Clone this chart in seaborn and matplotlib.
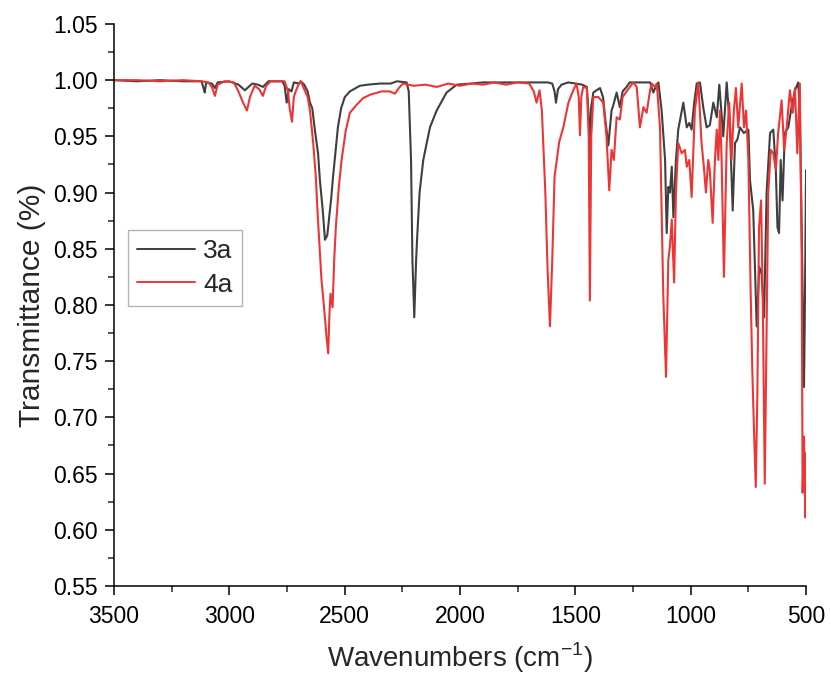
import numpy as np
import pandas as pd
import seaborn as sns
import matplotlib
matplotlib.use("Agg")
import matplotlib.pyplot as plt
from matplotlib.ticker import MultipleLocator, FormatStrFormatter

# ---- data (wavenumber cm-1, transmittance) ----
wn_3a = [3500, 3400, 3300, 3200, 3120, 3110, 3106, 3100, 3075, 3062, 3050, 3000,
         2960, 2932, 2900, 2875, 2854, 2830, 2770, 2760, 2751, 2742, 2730, 2720,
         2700, 2690, 2675, 2660, 2650, 2640, 2629, 2615, 2607, 2595, 2585, 2575,
         2567, 2558, 2550, 2540, 2529, 2515, 2499, 2477, 2434, 2400, 2347, 2300,
         2273, 2231, 2222, 2212, 2206, 2198, 2190, 2185, 2175, 2159, 2130, 2101,
         2058, 2014, 1950, 1900, 1800, 1700, 1620, 1600, 1590, 1584, 1575, 1560,
         1530, 1500, 1470, 1450, 1440, 1437, 1432, 1422, 1408, 1393, 1380, 1370,
         1357, 1343, 1335, 1321, 1307, 1295, 1278, 1264, 1250, 1176, 1162, 1150,
         1140, 1126, 1111, 1104, 1097, 1090, 1082, 1075, 1064, 1054, 1032, 1017,
         1006, 996, 985, 974, 960, 945, 931, 917, 902, 887, 876, 859, 844, 830,
         818, 808, 798, 786, 770, 750, 743, 729, 714, 703, 693, 682, 671, 656,
         642, 631, 624, 617, 610, 602, 592, 577, 563, 548, 534, 527, 519, 509,
         506, 503, 500]
t_3a = [1.000, 0.999, 1.000, 0.999, 0.999, 0.992, 0.989, 0.998, 0.997, 0.993, 0.998, 0.999,
        0.996, 0.991, 0.997, 0.996, 0.994, 0.999, 0.999, 0.995, 0.980, 0.992, 0.990, 0.998,
        0.997, 0.999, 0.996, 0.990, 0.980, 0.975, 0.956, 0.935, 0.911, 0.885, 0.858, 0.862,
        0.878, 0.895, 0.914, 0.935, 0.958, 0.975, 0.985, 0.990, 0.995, 0.996, 0.997, 0.997,
        0.999, 0.998, 0.990, 0.929, 0.840, 0.789, 0.840, 0.862, 0.900, 0.929, 0.958, 0.973,
        0.989, 0.996, 0.997, 0.998, 0.998, 0.998, 0.998, 0.997, 0.990, 0.980, 0.992, 0.996,
        0.998, 0.997, 0.996, 0.994, 0.960, 0.930, 0.975, 0.989, 0.991, 0.993, 0.985, 0.965,
        0.942, 0.973, 0.978, 0.989, 0.976, 0.990, 0.994, 0.998, 0.998, 0.998, 0.989, 0.995,
        0.998, 0.973, 0.929, 0.864, 0.905, 0.900, 0.923, 0.878, 0.929, 0.956, 0.980, 0.958,
        0.962, 0.956, 0.980, 0.997, 0.998, 0.975, 0.958, 0.960, 0.980, 0.967, 0.996, 0.950,
        0.998, 0.958, 0.884, 0.944, 0.947, 0.958, 0.953, 0.956, 0.911, 0.884, 0.781, 0.834,
        0.828, 0.789, 0.900, 0.953, 0.956, 0.920, 0.869, 0.864, 0.929, 0.893, 0.953, 0.958,
        0.976, 0.991, 0.998, 0.973, 0.869, 0.727, 0.780, 0.850, 0.920]

wn_4a = [3500, 3400, 3300, 3200, 3120, 3090, 3075, 3062, 3050, 3020, 2980, 2960,
         2940, 2923, 2910, 2890, 2870, 2854, 2840, 2820, 2760, 2745, 2738, 2728,
         2720, 2712, 2700, 2690, 2675, 2660, 2650, 2636, 2625, 2616, 2600, 2590,
         2578, 2571, 2566, 2561, 2552, 2545, 2538, 2525, 2513, 2495, 2477, 2448,
         2420, 2390, 2340, 2304, 2282, 2265, 2247, 2200, 2150, 2100, 2050, 2000,
         1950, 1900, 1850, 1800, 1750, 1700, 1680, 1668, 1655, 1645, 1630, 1620,
         1610, 1600, 1590, 1570, 1552, 1530, 1509, 1495, 1485, 1480, 1474, 1466,
         1450, 1442, 1437, 1431, 1422, 1400, 1379, 1365, 1353, 1343, 1333, 1321,
         1307, 1295, 1278, 1249, 1234, 1220, 1205, 1191, 1176, 1169, 1155, 1147,
         1133, 1119, 1107, 1097, 1090, 1082, 1072, 1064, 1054, 1039, 1025, 1017,
         1006, 996, 982, 967, 953, 943, 934, 924, 917, 905, 895, 887, 880, 873,
         866, 856, 844, 833, 823, 813, 804, 794, 779, 769, 760, 750, 740, 733,
         726, 718, 711, 704, 695, 688, 679, 671, 664, 653, 642, 631, 621, 606,
         595, 584, 570, 558, 548, 538, 527, 519, 515, 509, 503, 500]
t_4a = [1.000, 1.000, 0.999, 1.000, 0.999, 0.998, 0.994, 0.986, 0.996, 0.999, 0.998, 0.990,
        0.980, 0.973, 0.985, 0.995, 0.992, 0.986, 0.995, 0.999, 0.999, 0.990, 0.975, 0.963,
        0.985, 0.990, 0.996, 0.999, 0.992, 0.985, 0.973, 0.944, 0.915, 0.878, 0.822, 0.800,
        0.771, 0.757, 0.790, 0.810, 0.798, 0.840, 0.869, 0.905, 0.929, 0.955, 0.971, 0.978,
        0.984, 0.987, 0.990, 0.990, 0.988, 0.993, 0.997, 0.995, 0.996, 0.994, 0.997, 0.995,
        0.997, 0.996, 0.998, 0.996, 0.998, 0.997, 0.990, 0.980, 0.991, 0.973, 0.900, 0.830,
        0.781, 0.840, 0.914, 0.945, 0.958, 0.980, 0.991, 0.997, 0.985, 0.951, 0.985, 0.994,
        0.993, 0.950, 0.804, 0.950, 0.985, 0.985, 0.980, 0.950, 0.902, 0.938, 0.929, 0.967,
        0.965, 0.985, 0.990, 0.998, 0.994, 0.958, 0.976, 0.971, 0.991, 0.997, 0.994, 0.997,
        0.958, 0.810, 0.736, 0.840, 0.852, 0.876, 0.820, 0.900, 0.944, 0.935, 0.938, 0.923,
        0.929, 0.896, 0.973, 0.998, 0.944, 0.923, 0.900, 0.929, 0.920, 0.873, 0.929, 0.956,
        0.929, 0.973, 0.929, 0.825, 0.944, 0.980, 0.929, 0.973, 0.993, 0.958, 0.997, 0.958,
        0.973, 0.929, 0.810, 0.742, 0.691, 0.638, 0.722, 0.869, 0.893, 0.810, 0.641, 0.781,
        0.900, 0.938, 0.935, 0.920, 0.953, 0.982, 0.938, 0.958, 0.991, 0.971, 0.993, 0.935,
        0.997, 0.840, 0.633, 0.683, 0.611, 0.668]

series_names = ["3a", "4a"]
series_colors = ["#3f3f3f", "#ee3535"]

df = pd.concat([
    pd.DataFrame({"wn": wn_3a, "T": t_3a, "sample": series_names[0]}),
    pd.DataFrame({"wn": wn_4a, "T": t_4a, "sample": series_names[1]}),
], ignore_index=True)

sns.set_style("ticks")
plt.rcParams["font.family"] = ["Liberation Sans", "DejaVu Sans"]
plt.rcParams["mathtext.fontset"] = "custom"
plt.rcParams["mathtext.rm"] = "Liberation Sans"

fig = plt.figure(figsize=(8.31, 6.79), dpi=100)
ax = fig.add_axes([0.137, 0.137, 0.833, 0.8277])

sns.lineplot(data=df, x="wn", y="T", hue="sample", hue_order=series_names,
             palette=dict(zip(series_names, series_colors)), estimator=None,
             sort=True, linewidth=1.5, ax=ax)

ax.set_xlim(3500, 500)
ax.set_ylim(0.55, 1.05)
ax.xaxis.set_major_locator(MultipleLocator(500))
ax.xaxis.set_minor_locator(MultipleLocator(250))
ax.yaxis.set_major_locator(MultipleLocator(0.05))
ax.yaxis.set_minor_locator(MultipleLocator(0.025))
ax.yaxis.set_major_formatter(FormatStrFormatter("%.2f"))
ax.tick_params(which="major", direction="out", length=6.5, width=1.1, labelsize=16.5,
               colors="black")
ax.tick_params(which="minor", direction="out", length=4, width=1.1)
ax.tick_params(axis="x", which="major", pad=7)
ax.tick_params(axis="y", which="major", pad=5)
for side in ["top", "right"]:
    ax.spines[side].set_visible(False)
for side in ["left", "bottom"]:
    ax.spines[side].set_linewidth(1.1)
    ax.spines[side].set_color("black")

ax.set_xlabel("Wavenumbers (cm$^{\\mathrm{-1}}$)", fontsize=20, labelpad=9)
ax.set_ylabel("Transmittance (%)", fontsize=21.5, labelpad=5)

leg = ax.legend(loc="upper left", bbox_to_anchor=(0.02, 0.633), borderaxespad=0,
                fontsize=19, handlelength=2.2, handletextpad=0.3, borderpad=0.35,
                labelspacing=0.35, fancybox=False, frameon=True)
leg.get_frame().set_edgecolor("#a0a0a0")
leg.get_frame().set_linewidth(1.0)
for line in leg.get_lines():
    line.set_linewidth(1.4)

fig.savefig("out.png", dpi=100)
